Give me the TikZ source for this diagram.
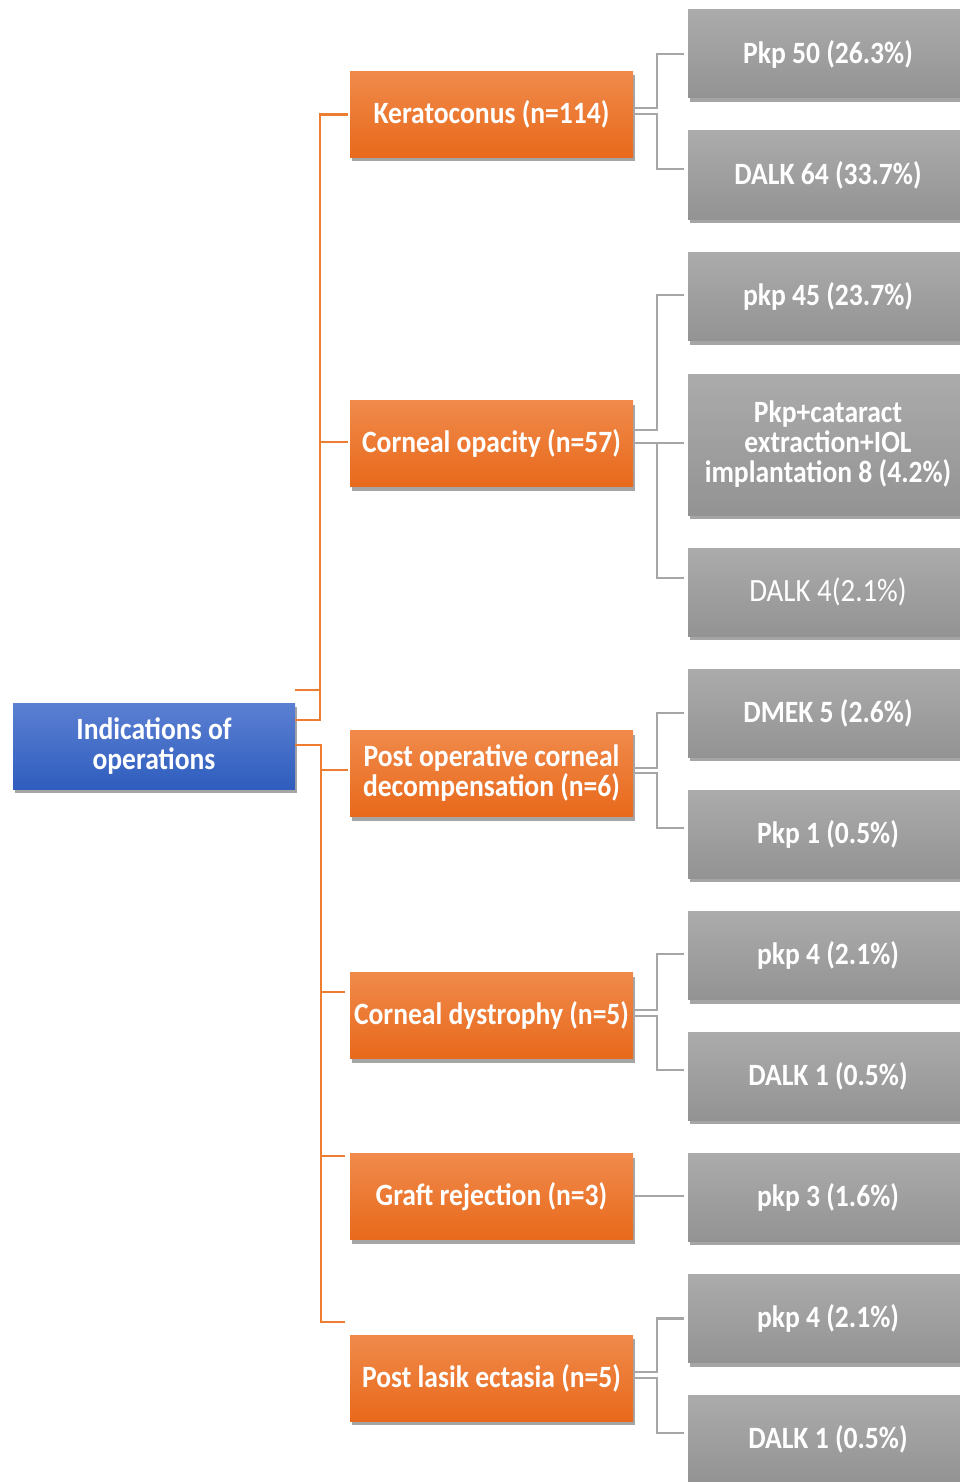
\documentclass[tikz,border=0pt]{standalone}
\usepackage{fontspec}
\setmainfont{Carlito}[FakeStretch=0.89]
\usetikzlibrary{shadows,calc}
\definecolor{oTop}{HTML}{F08A4B}
\definecolor{oBot}{HTML}{E8691B}
\definecolor{bTop}{HTML}{5B80D2}
\definecolor{bBot}{HTML}{2F5DBE}
\definecolor{gTop}{HTML}{ABABAB}
\definecolor{gBot}{HTML}{939393}
\definecolor{oLine}{HTML}{ED7D31}
\definecolor{gLine}{HTML}{A6A6A6}
\tikzset{
  box/.style={minimum height=86pt, inner sep=2pt, align=center, text=white,
    font=\fontsize{31}{30}\selectfont\bfseries,
    drop shadow={shadow xshift=2pt, shadow yshift=-4pt, opacity=0.5, fill=black!70}},
  rootbox/.style={box, minimum width=282pt, top color=bTop, bottom color=bBot},
  obox/.style={box, minimum width=283pt, top color=oTop, bottom color=oBot},
  gbox/.style={box, minimum width=280pt, minimum height=88pt, top color=gTop, bottom color=gBot},
  oline/.style={draw=oLine, line width=2.2pt},
  gline/.style={draw=gLine, line width=2.5pt},
}
\begin{document}
\begin{tikzpicture}[x=1pt,y=-1pt]
\useasboundingbox (0,0) rectangle (959,1482);
% root
\node[rootbox] (root) at (154,746) {Indications of\\operations};
% categories
\node[obox] (k)  at (491.5,114.5) {Keratoconus (n=114)};
\node[obox] (co) at (491.5,443.5) {Corneal opacity (n=57)};
\node[obox] (po) at (491.5,773.5) {Post operative corneal\\decompensation (n=6)};
\node[obox] (cd) at (491.5,1015.5) {Corneal dystrophy (n=5)};
\node[obox] (gr) at (491.5,1196.5) {Graft rejection (n=3)};
\node[obox] (pl) at (491.5,1378) {Post lasik ectasia (n=5)};
% leaves
\node[gbox] (g1)  at (828,54)    {Pkp 50 (26.3\%)};
\node[gbox] (g2)  at (828,175)   {DALK 64 (33.7\%)};
\node[gbox] (g3)  at (828,296.5) {pkp 45 (23.7\%)};
\node[gbox, minimum height=141pt] (g4) at (828,444.5) {Pkp+cataract\\extraction+IOL\\implantation 8 (4.2\%)};
\node[gbox, font=\fontsize{32.5}{30}\selectfont] (g5) at (828,592) {DALK 4(2.1\%)};
\node[gbox] (g6)  at (828,713)   {DMEK 5 (2.6\%)};
\node[gbox] (g7)  at (828,834)   {Pkp 1 (0.5\%)};
\node[gbox] (g8)  at (828,955.5) {pkp 4 (2.1\%)};
\node[gbox] (g9)  at (828,1076)  {DALK 1 (0.5\%)};
\node[gbox] (g10) at (828,1197)  {pkp 3 (1.6\%)};
\node[gbox] (g11) at (828,1318.5){pkp 4 (2.1\%)};
\node[gbox] (g12) at (828,1439)  {DALK 1 (0.5\%)};
% orange connectors
\draw[oline] ([yshift=56pt]root.east) -- ++(25pt,0);
\draw[oline] ([yshift=26pt]root.east) -- ++(25pt,0) coordinate (ja) |- ([xshift=-2pt]k.west);
\draw[oline] (ja) |- ([xshift=-2pt,yshift=1.5pt]co.west);
\draw[oline] ([yshift=1pt]root.east) -- ++(26pt,0) coordinate (jb) |- ([xshift=-2pt,yshift=3.5pt]po.west);
\draw[oline] (jb) |- ([xshift=-5pt,yshift=23.5pt]cd.west);
\draw[oline] (jb) |- ([xshift=-5pt,yshift=40.5pt]gr.west);
\draw[oline] (jb) |- ([xshift=-5pt,yshift=56pt]pl.west);
% gray connectors
\draw[gline] ([yshift=6.5pt]k.east) -- ++(24pt,0) |- ([xshift=-4pt]g1.west);
\draw[gline] ([yshift=0.5pt]k.east) -- ++(24pt,0) |- ([xshift=-4pt,yshift=6pt]g2.west);
\draw[gline] ([yshift=13.5pt]co.east) -- ++(24pt,0) |- ([xshift=-4pt,yshift=1.5pt]g3.west);
\draw[gline] ([yshift=0.5pt]co.east) -- ([xshift=-4pt,yshift=1.5pt]g4.west);
\draw[gline] ([yshift=0.5pt]co.east) ++(24pt,0) |- ([xshift=-4pt,yshift=14pt]g5.west);
\draw[gline] ([yshift=5.5pt]po.east) -- ++(24pt,0) |- ([xshift=-4pt]g6.west);
\draw[gline] ([yshift=0.5pt]po.east) -- ++(24pt,0) |- ([xshift=-4pt,yshift=6pt]g7.west);
\draw[gline] ([yshift=5.5pt]cd.east) -- ++(24pt,0) |- ([xshift=-4pt,yshift=1.5pt]g8.west);
\draw[gline] ([yshift=-0.5pt]cd.east) -- ++(24pt,0) |- ([xshift=-4pt,yshift=6pt]g9.west);
\draw[gline] ([yshift=0.5pt]gr.east) -- ([xshift=-4pt,yshift=1pt]g10.west);
\draw[gline] ([yshift=6pt]pl.east) -- ++(24pt,0) |- ([xshift=-4pt]g11.west);
\draw[gline] (pl.east) -- ++(24pt,0) |- ([xshift=-4pt,yshift=6pt]g12.west);
\end{tikzpicture}
\end{document}
